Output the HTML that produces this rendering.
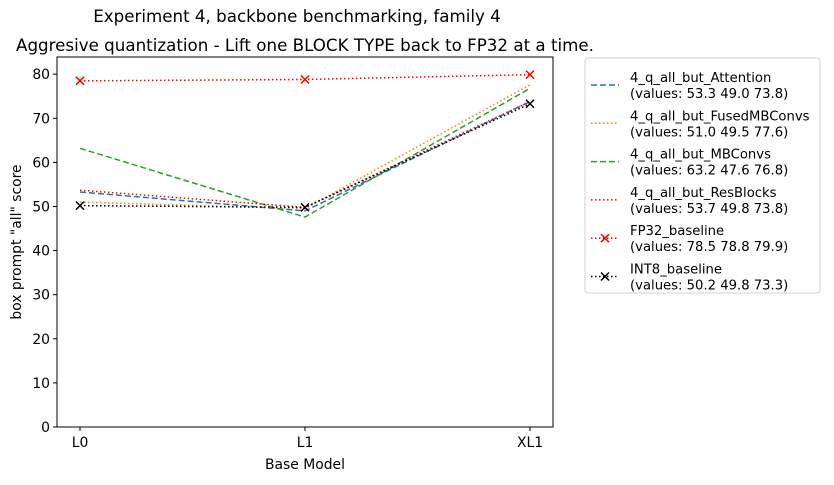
<!DOCTYPE html>
<html><head><meta charset="utf-8"><style>
body{margin:0;background:#fff;}
svg{font-family:"DejaVu Sans","Liberation Sans",sans-serif;}
</style></head><body>
<svg id="chart" width="834" height="480" xmlns="http://www.w3.org/2000/svg">
<text x="297" y="22" font-size="16.7" text-anchor="middle">Experiment 4, backbone benchmarking, family 4</text>
<text x="305" y="51" font-size="16.7" text-anchor="middle">Aggresive quantization - Lift one BLOCK TYPE back to FP32 at a time.</text>
<g id="axes"></g>
<g id="series"></g>
<rect x="57" y="57" width="496" height="370" fill="none" stroke="#000" stroke-width="1"/>
<text x="305" y="469" font-size="13.9" text-anchor="middle">Base Model</text>
<text transform="translate(21,242) rotate(-90)" font-size="13.9" text-anchor="middle">box prompt "all" score</text>
<rect x="585" y="58" width="235" height="235" rx="3" fill="#fff" stroke="#d0d0d0"/>
<g id="legend"></g>
</svg>
<script>
const categories=["L0","L1","XL1"];
const yTicks=[0,10,20,30,40,50,60,70,80];
const seriesNames=["4_q_all_but_Attention","4_q_all_but_FusedMBConvs","4_q_all_but_MBConvs","4_q_all_but_ResBlocks","FP32_baseline","INT8_baseline"];
const attention=[53.3,49.0,73.8];
const fused=[51.0,49.5,77.6];
const mbconvs=[63.2,47.6,76.8];
const resblocks=[53.7,49.8,73.8];
const fp32=[78.5,78.8,79.9];
const int8=[50.2,49.8,73.3];
const values=[attention,fused,mbconvs,resblocks,fp32,int8];
const colors=["#1f77b4","#ff7f0e","#2ca02c","#ff0000","#ff0000","#000000"];
const dashes=["6,3","1.5,2.5","6,3","1.5,2.5","1.5,2.5","1.5,2.5"];
const markers=[false,false,false,false,true,true];
const NS="http://www.w3.org/2000/svg";
const xS=i=>80+i*225;
const yS=v=>427-v*4.41;
function mk(t,a,p){const e=document.createElementNS(NS,t);for(const k in a)e.setAttribute(k,a[k]);p.appendChild(e);return e;}
const ax=document.getElementById('axes');
yTicks.forEach(t=>{
 const l=mk('line',{x1:53,x2:57,y1:yS(t),y2:yS(t),stroke:'#000'},ax);
 
 
 const tx=mk('text',{x:50,y:yS(t)+5,'font-size':13.9,'text-anchor':'end'},ax);tx.textContent=t;
 
 
});
categories.forEach((c,i)=>{
 const l=mk('line',{x1:xS(i),x2:xS(i),y1:427,y2:431,stroke:'#000'},ax);
 
 
 const tx=mk('text',{x:xS(i),y:447,'font-size':13.9,'text-anchor':'middle'},ax);tx.textContent=c;
 
 
});
const sg=document.getElementById('series');
function xm(g,x,y,c){mk('path',{d:`M${x-4},${y-4}L${x+4},${y+4}M${x-4},${y+4}L${x+4},${y-4}`,stroke:c,'stroke-width':1.5},g);}
values.forEach((vals,s)=>{
 const g=mk('g',{},sg);
 
 
 mk('polyline',{points:vals.map((v,i)=>xS(i)+','+yS(v)).join(' '),fill:'none',stroke:colors[s],'stroke-width':1.5,'stroke-dasharray':dashes[s]},g);
 if(markers[s])vals.forEach((v,i)=>xm(g,xS(i),yS(v),colors[s]));
});
const lg=document.getElementById('legend');
seriesNames.forEach((n,s)=>{
 const y=77+s*38.3;
 const g=mk('g',{},lg);
 
 
 mk('line',{x1:591,x2:619,y1:y+8,y2:y+8,stroke:colors[s],'stroke-width':1.5,'stroke-dasharray':dashes[s]},g);
 if(markers[s])xm(g,605,y+8,colors[s]);
 const t1=mk('text',{x:630,y:y+5,'font-size':13.2},g);t1.textContent=n;
 const t2=mk('text',{x:630,y:y+21,'font-size':13.2},g);t2.textContent='(values: '+values[s].map(v=>v.toFixed(1)).join(' ')+')';
});
</script>
</body></html>
